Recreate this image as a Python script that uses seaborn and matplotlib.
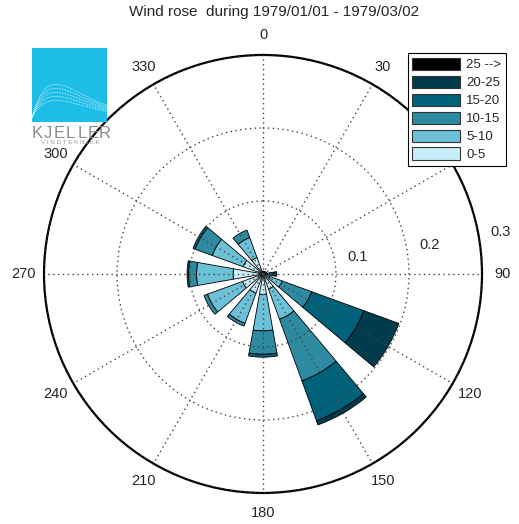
import numpy as np
import matplotlib
matplotlib.use("Agg")
import matplotlib.pyplot as plt
from matplotlib.patches import Patch
import seaborn as sns

# Wind directions (degrees, compass) and frequency per speed class (m/s)
directions = [0, 30, 60, 90, 120, 150, 180, 210, 240, 270, 300, 330]
speed_bins = ['0-5', '5-10', '10-15', '15-20', '20-25', '25 -->']
freq_0_5 = [0.003, 0.003, 0.003, 0.003, 0.010, 0.022, 0.028, 0.028, 0.030, 0.041, 0.029, 0.024]
freq_5_10 = [0.001, 0.001, 0.002, 0.003, 0.018, 0.044, 0.050, 0.044, 0.051, 0.050, 0.045, 0.029]
freq_10_15 = [0.0, 0.0, 0.0, 0.003, 0.043, 0.090, 0.032, 0.004, 0.005, 0.011, 0.025, 0.011]
freq_15_20 = [0.0, 0.0, 0.0, 0.005, 0.076, 0.058, 0.004, 0.0, 0.0, 0.002, 0.003, 0.0]
freq_20_25 = [0.0, 0.0, 0.0, 0.005, 0.051, 0.006, 0.0, 0.0, 0.0, 0.0, 0.0, 0.0]
freq_25_up = [0.0, 0.0, 0.0, 0.0, 0.0, 0.0, 0.0, 0.0, 0.0, 0.0, 0.0, 0.0]
rings = [0.1, 0.2, 0.3]
title = 'Wind rose  during 1979/01/01 - 1979/03/02'

colors = ['#c8eef9', '#6cc0d8', '#2e8aa1', '#00617b', '#003c4e', '#000000']

sns.set_style("white")
plt.rcParams['font.family'] = ['Liberation Sans', 'DejaVu Sans']

fig = plt.figure(figsize=(5.19, 5.24), dpi=100)
ax = fig.add_axes([0.0848, 0.0592, 0.8439, 0.8359], projection='polar')
ax.set_theta_zero_location('N')
ax.set_theta_direction(-1)

theta = np.deg2rad(directions)
width = np.deg2rad(20)
bottom = np.zeros(len(directions))
for vals, c in zip([freq_0_5, freq_5_10, freq_10_15, freq_15_20, freq_20_25, freq_25_up], colors):
    vals = np.array(vals)
    mask = vals > 0
    ax.bar(theta[mask], vals[mask], width=width, bottom=bottom[mask],
           color=c, edgecolor='black', linewidth=0.6)
    bottom = bottom + vals

ax.set_ylim(0, 0.3)
ax.set_rticks(rings)
ax.set_thetagrids(directions)
ax.tick_params(axis='both', labelleft=False, labelbottom=False, labeltop=False, labelright=False)
ax.set_axisbelow(False)
ax.grid(True, linestyle=(0, (1, 2.5)), color='#444444', linewidth=1.0)
ax.spines['polar'].set_linewidth(1.6)
ax.spines['polar'].set_color('black')

for a in directions:
    ax.text(np.deg2rad(a), 0.328, str(a), ha='center', va='center', fontsize=10.5, clip_on=False)
for r in rings:
    ax.text(np.deg2rad(80), r + 0.031, f'{r:.1f}', ha='center', va='center', fontsize=10.5, clip_on=False)

fig.text(274 / 519, 1 - 12 / 524, title, ha='center', va='center', fontsize=11)

handles = [Patch(facecolor=c, edgecolor='#333333', linewidth=0.8, label=l)
           for c, l in zip(colors[::-1], speed_bins[::-1])]
leg = ax.legend(handles=handles, loc='upper right', bbox_to_anchor=(506 / 519, 1 - 53 / 524),
                bbox_transform=fig.transFigure, fontsize=9.5, frameon=True, fancybox=False,
                framealpha=1, handlelength=3.6, handleheight=1.05, labelspacing=0.33,
                borderpad=0.35, handletextpad=0.5, borderaxespad=0)
leg.get_frame().set_edgecolor('black')
leg.get_frame().set_linewidth(0.8)
leg.set_zorder(10)

# logo
lax = fig.add_axes([32 / 519, 1 - 122 / 524, 75 / 519, 74 / 524])
lax.set_facecolor('#1cbee7')
lax.set_xlim(0, 1)
lax.set_ylim(0, 1)
lax.set_xticks([])
lax.set_yticks([])
for s in lax.spines.values():
    s.set_visible(False)
xs = np.linspace(0, 1, 200)
for h in [0.26, 0.32, 0.38, 0.44, 0.50]:
    ys = 0.06 + h * (xs / 0.36) * np.exp(1 - xs / 0.36) * (1 - 0.3 * xs)
    lax.plot(xs, ys, color='white', lw=0.6, ls=(0, (1, 1)), alpha=0.85)
logo_word = 'KJELLER'
for i, ch in enumerate(logo_word):
    fig.text((37 + i * 11.2) / 519, 1 - 133 / 524, ch, ha='center', va='center',
             fontsize=12, color='#8c8c8c')
fig.text(70 / 519, 1 - 143 / 524, 'V I N D T E K N I K K', ha='center', va='center',
         fontsize=4.5, color='#9a9a9a')

fig.savefig('out.png', dpi=100)
